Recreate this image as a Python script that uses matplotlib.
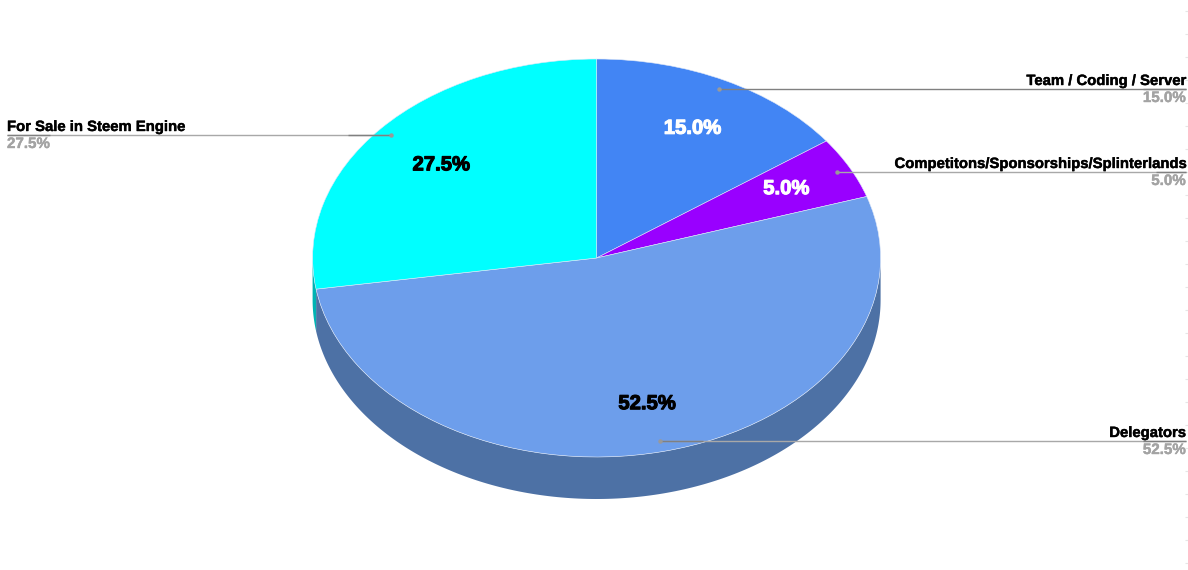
"""3D style pie chart, slices drawn with ax.pie and squashed into an ellipse."""

import numpy as np
import matplotlib
matplotlib.use("Agg")
import matplotlib.pyplot as plt
import matplotlib.patheffects as pe
from matplotlib.transforms import Affine2D

names = ["Team / Coding / Server", "Competitons/Sponsorships/Splinterlands", "Delegators", "For Sale in Steem Engine"]
shares = [15.0, 5.0, 52.5, 27.5]
pct_labels = ["15.0%", "5.0%", "52.5%", "27.5%"]
top_colors = ["#4285f4", "#9900ff", "#6d9eeb", "#00ffff"]
side_colors = ["#2e5dab", "#6b00b3", "#4d71a5", "#00b3b3"]
pct_colors = ["white", "white", "black", "black"]
leader_colors = ["#808080", "#a8a8a8", "#a8a8a8", "#a8a8a8"]
label_sides = ["right", "right", "right", "left"]

# small hand nudges for the percent labels, and lengths of the darker leader bits
pct_dx = [0.5, 2.5, 1.5, 4.5]
pct_dy = [1.5, -2.5, 2.5, 2.5]
dark_near = [0, 0, 43, 43]
dark_far = [43, 30, 43, 43]

CX, CY = 596.6, 258
RX, RY = 284, 199
DEPTH = 42
W, H = 1188, 570

plt.rcParams["font.family"] = ["Liberation Sans", "DejaVu Sans"]


def to_xy(angle, frac=1.0):
    # angle in radians, clockwise from 12 o'clock
    return CX + RX * frac * np.sin(angle), CY - RY * frac * np.cos(angle)


fig = plt.figure(figsize=(W / 100, H / 100), dpi=100)
ax = fig.add_axes([0, 0, 1, 1])

edges = np.cumsum([0] + shares) / sum(shares) * 2 * np.pi

# walls, only the part of each slice on the front half
for i, color in enumerate(side_colors):
    lo = max(edges[i], np.pi / 2)
    hi = min(edges[i + 1], 3 * np.pi / 2)
    if hi <= lo:
        continue
    t = np.linspace(lo, hi, 200)
    x, y = to_xy(t)
    ax.fill(np.r_[x, x[::-1]], np.r_[y, y[::-1] + DEPTH], color=color, lw=0, zorder=1)

wedges, _ = ax.pie(
    shares, colors=top_colors, startangle=90, counterclock=False,
    wedgeprops=dict(edgecolor="#dfe8f7", linewidth=0.4),
)
squash = Affine2D().scale(RX, -RY).translate(CX, CY) + ax.transData
for w in wedges:
    w.set_transform(squash)
    w.set_zorder(2)

ax.set_aspect("auto")
ax.set_xlim(0, W)
ax.set_ylim(H, 0)
ax.axis("off")

for i, name in enumerate(names):
    mid = (edges[i] + edges[i + 1]) / 2

    px, py = to_xy(mid, 0.74)
    ax.text(px + pct_dx[i], py + pct_dy[i], pct_labels[i], color=pct_colors[i], fontsize=14.6, fontweight="bold",
            ha="center", va="center", zorder=5,
            path_effects=[pe.withStroke(linewidth=0.8, foreground=pct_colors[i])])

    ax_, ay = to_xy(mid, 0.95)
    ay = np.floor(ay) - 0.5
    if label_sides[i] == "right":
        x_end, ha, sign = 1186, "right", 1
    else:
        x_end, ha, sign = 7, "left", -1
    ax.plot([ax_, x_end], [ay, ay], color=leader_colors[i], lw=1.0, zorder=3, solid_capstyle="butt")
    # darker bits next to the dot and under the percent text
    ax.plot([ax_, ax_ + sign * dark_near[i]], [ay, ay], color="#808080", lw=1.0, zorder=3, solid_capstyle="butt")
    ax.plot([x_end, x_end - sign * dark_far[i]], [ay, ay], color="#808080", lw=1.0, zorder=3, solid_capstyle="butt")
    ax.plot([ax_], [ay], "o", color="#999999", ms=3.2, mew=0, zorder=4)
    ax.text(x_end, ay - 0.5, name, color="black", fontsize=10.7, fontweight="bold",
            ha=ha, va="bottom", zorder=5,
            path_effects=[pe.withStroke(linewidth=0.3, foreground="black")])
    ax.text(x_end, ay + 2.5, pct_labels[i], color="#a3a3a3", fontsize=10.9, fontweight="bold",
            ha=ha, va="top", zorder=5,
            path_effects=[pe.withStroke(linewidth=0.3, foreground="#a3a3a3")])

# faint tick stubs along the right edge
ax.hlines(np.arange(11, H, 23), 1185, W, color="#e6e6e6", lw=0.8, zorder=0)

fig.savefig("out.png", dpi=100, facecolor="white")
